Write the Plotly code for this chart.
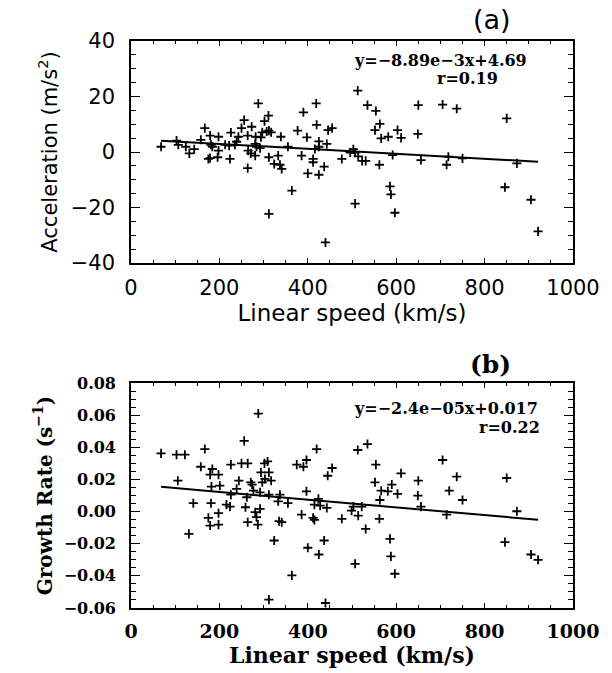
import plotly.graph_objects as go

# ---------------- data: panel (a) ----------------
speed_a = [68, 103, 107, 124, 132, 143, 158, 167, 179, 181, 184, 175, 179, 198, 198, 196,
           213, 224, 226, 222, 235, 239, 243, 250, 256, 264, 264, 273, 265, 271, 281, 282,
           281, 284, 288, 292, 294, 297, 302, 311, 307, 312, 317, 312, 312, 324, 333, 337,
           341, 339, 355, 364, 377, 386, 390, 398, 400, 412, 412, 419, 420, 416, 425, 425,
           425, 437, 440, 443, 446, 455, 477,
           513, 535, 554, 563, 552, 566, 582, 603, 611, 650, 649, 705, 737, 850, 496, 503,
           507, 514, 523, 531, 562, 592, 586, 588, 597, 507, 656, 714, 718, 750, 846, 873,
           905, 921]
accel_a = [1.9, 4.1, 2.6, 1.9, -0.5, 1.0, 4.4, 8.6, 5.9, 2.6, 1.9, -2.5, -2.2, 5.5, 0.5, -1.9,
           2.6, -2.5, 7.0, 2.3, 2.6, 3.7, 5.5, 8.6, 11.5, 5.9, -5.8, 9.1, 0.5, -0.5, -1.3, 5.5,
           2.9, 1.9, 17.5, 1.4, 5.3, 7.1, 11.1, 13.1, 7.4, 7.7, 7.1, -1.9, -22.3, -4.3, -1.3, -4.6,
           -6.1, 5.5, 1.9, -13.9, 7.7, -1.3, 14.3, 5.3, -7.7, -2.5, -3.7, 17.5, 9.8, 1.1, 3.8, 1.9,
           -8.2, -5.3, -32.6, 2.9, 7.9, 8.6, -2.5,
           22.1, 16.9, 14.8, 10.1, 7.9, 4.9, 5.5, 7.9, 5.1, 16.9, 6.5, 17.1, 15.6, 12.1, -0.2, 1.0,
           -0.2, -1.6, -3.2, -3.2, -4.6, -1.1, -12.4, -15.3, -21.9, -18.6, -2.9, -4.6, -1.7, -2.3, -12.7, -4.1,
           -17.2, -28.6]
fit_a_slope = -8.89e-3
fit_a_intercept = 4.69
fit_a_text = "y=−8.89e−3x+4.69"
r_a_text = "r=0.19"

# ---------------- data: panel (b) ----------------
speed_b = [68, 103, 122, 106, 131, 141, 158, 167, 184, 179, 198, 182, 201, 181, 175, 179,
           198, 198, 216, 224, 226, 226, 239, 244, 250, 264, 256, 262, 259, 264, 271, 274,
           277, 288, 281, 284, 287, 292, 292, 294, 297, 302, 309, 303, 312, 317, 312, 312,
           324, 333, 337, 335, 341, 355, 364, 375, 390, 397, 397, 386, 400, 412, 415, 415,
           420, 424, 428, 425, 437, 443, 445, 455, 440, 477,
           513, 535, 554, 552, 566, 581, 590, 603, 611, 650, 649, 656, 705, 720, 737, 750,
           850, 873, 846, 905, 921, 499, 503, 522, 514, 531, 563, 562, 586, 588, 597, 507, 714]
growth_b = [0.0362, 0.0354, 0.0354, 0.0192, -0.0139, 0.0052, 0.0279, 0.0389, 0.0265, 0.0230, 0.0230, 0.0155, 0.0161, 0.0052, -0.0039, -0.0087,
            -0.0081, -0.0010, 0.0043, 0.0031, 0.0292, 0.0105, 0.0141, 0.0192, 0.0300, 0.0300, 0.0440, 0.0089, 0.0027, -0.0066, 0.0182, 0.0168,
            0.0130, 0.0610, -0.0004, -0.0035, -0.0081, 0.0017, 0.0120, 0.0244, 0.0182, 0.0300, 0.0312, 0.0203, 0.0244, 0.0192, 0.0105, -0.0548,
            -0.0180, 0.0064, 0.0105, -0.0060, -0.0066, 0.0052, -0.0397, 0.0292, 0.0279, 0.0321, 0.0126, -0.0019, -0.0225, -0.0039, -0.0052, 0.0043,
            0.0389, 0.0079, 0.0037, -0.0267, -0.0180, 0.0023, 0.0223, 0.0271, -0.0569, -0.0045,
            0.0383, 0.0420, 0.0292, 0.0182, 0.0130, 0.0126, 0.0168, 0.0110, 0.0238, 0.0192, 0.0099, 0.0031, 0.0321, 0.0130, 0.0217, 0.0072,
            0.0209, 0.0002, -0.0190, -0.0267, -0.0300, 0.0006, 0.0031, 0.0031, -0.0025, -0.0108, 0.0072, -0.0045, -0.0170, -0.0279, -0.0387, -0.0325, -0.0019]
fit_b_slope = -2.4e-05
fit_b_intercept = 0.017
fit_b_text = "y=−2.4e−05x+0.017"
r_b_text = "r=0.22"

x_ticks = [0, 200, 400, 600, 800, 1000]
ya_ticks = [-40, -20, 0, 20, 40]
yb_ticks = [-0.06, -0.04, -0.02, 0.00, 0.02, 0.04, 0.06, 0.08]

SANS = "DejaVu Sans"
SERIF = "DejaVu Serif"

fig = go.Figure()

marker = dict(symbol="cross-thin", size=6.5, line=dict(width=1.8, color="black"), color="black")

fig.add_trace(go.Scatter(x=speed_a, y=accel_a, mode="markers", marker=marker,
                         xaxis="x", yaxis="y", showlegend=False))
xa = [min(speed_a), max(speed_a)]
fig.add_trace(go.Scatter(x=xa, y=[fit_a_slope * v + fit_a_intercept for v in xa], mode="lines",
                         line=dict(color="black", width=2), xaxis="x", yaxis="y", showlegend=False))

fig.add_trace(go.Scatter(x=speed_b, y=growth_b, mode="markers", marker=marker,
                         xaxis="x2", yaxis="y2", showlegend=False))
xb = [min(speed_b), max(speed_b)]
fig.add_trace(go.Scatter(x=xb, y=[fit_b_slope * v + fit_b_intercept for v in xb], mode="lines",
                         line=dict(color="black", width=2), xaxis="x2", yaxis="y2", showlegend=False))

W, H = 612, 673
xdom = [131 / W, 573 / W]
ya_dom = [1 - 263 / H, 1 - 41 / H]
yb_dom = [1 - 608 / H, 1 - 383 / H]


def axis_common(ticklen, minor_len, minor_dtick, standoff):
    return dict(showline=True, linecolor="black", linewidth=1.6, mirror="ticks",
                ticks="inside", ticklen=ticklen, tickwidth=1.2, tickcolor="black",
                minor=dict(ticks="inside", ticklen=minor_len, dtick=minor_dtick,
                           tickcolor="black", tickwidth=1, showgrid=False),
                showgrid=False, zeroline=False, automargin=False,
                ticklabelstandoff=standoff)


fig.update_layout(
    width=W, height=H,
    margin=dict(l=0, r=0, t=0, b=0, autoexpand=False),
    paper_bgcolor="white", plot_bgcolor="white",
    showlegend=False,
    xaxis=dict(domain=xdom, anchor="y", range=[0, 1000], tickvals=x_ticks,
               tickfont=dict(family=SANS, size=21, color="black"),
               title=dict(text="Linear speed (km/s)", font=dict(family=SANS, size=23, color="black"), standoff=4),
               **axis_common(5, 3, 50, 5)),
    yaxis=dict(domain=ya_dom, anchor="x", range=[-40, 40], tickvals=ya_ticks,
               tickfont=dict(family=SANS, size=21, color="black"),
               title=dict(text="Acceleration (m/s<sup>2</sup>)", font=dict(family=SANS, size=21, color="black"), standoff=7),
               **axis_common(9, 5, 5, 10)),
    xaxis2=dict(domain=xdom, anchor="y2", range=[0, 1000], tickvals=x_ticks,
                tickfont=dict(family=SERIF, size=19, color="black", weight="bold"),
                title=dict(text="Linear speed (km/s)", font=dict(family=SERIF, size=22, color="black", weight="bold"), standoff=4),
                **axis_common(5, 3, 50, 5)),
    yaxis2=dict(domain=yb_dom, anchor="x2", range=[-0.06, 0.08], tickvals=yb_ticks, tickformat=".2f",
                tickfont=dict(family=SERIF, size=16, color="black", weight="bold"),
                title=dict(text="Growth Rate (s<sup>−1</sup>)", font=dict(family=SERIF, size=20, color="black", weight="bold"), standoff=6),
                **axis_common(9, 5, 0.005, 10)),
    annotations=[
        dict(text="(a)", x=492 / W, y=1 - 19 / H, xref="paper", yref="paper", showarrow=False,
             xanchor="center", yanchor="middle", font=dict(family=SANS, size=27, color="black")),
        dict(text="(b)", x=490 / W, y=1 - 364 / H, xref="paper", yref="paper", showarrow=False,
             xanchor="center", yanchor="middle", font=dict(family=SERIF, size=25, color="black", weight="bold")),
        dict(text=fit_a_text, x=352 / W, y=1 - 60 / H, xref="paper", yref="paper", showarrow=False,
             xanchor="left", yanchor="middle", font=dict(family=SERIF, size=16, color="black", weight="bold")),
        dict(text=r_a_text, x=435 / W, y=1 - 78 / H, xref="paper", yref="paper", showarrow=False,
             xanchor="left", yanchor="middle", font=dict(family=SERIF, size=16, color="black", weight="bold")),
        dict(text=fit_b_text, x=352 / W, y=1 - 409 / H, xref="paper", yref="paper", showarrow=False,
             xanchor="left", yanchor="middle", font=dict(family=SERIF, size=16, color="black", weight="bold")),
        dict(text=r_b_text, x=542 / W, y=1 - 427 / H, xref="paper", yref="paper", showarrow=False,
             xanchor="right", yanchor="middle", font=dict(family=SERIF, size=16, color="black", weight="bold")),
    ],
)

fig.write_html("out.html", config={"displayModeBar": False},
               post_script="document.body.style.margin='0px';")
